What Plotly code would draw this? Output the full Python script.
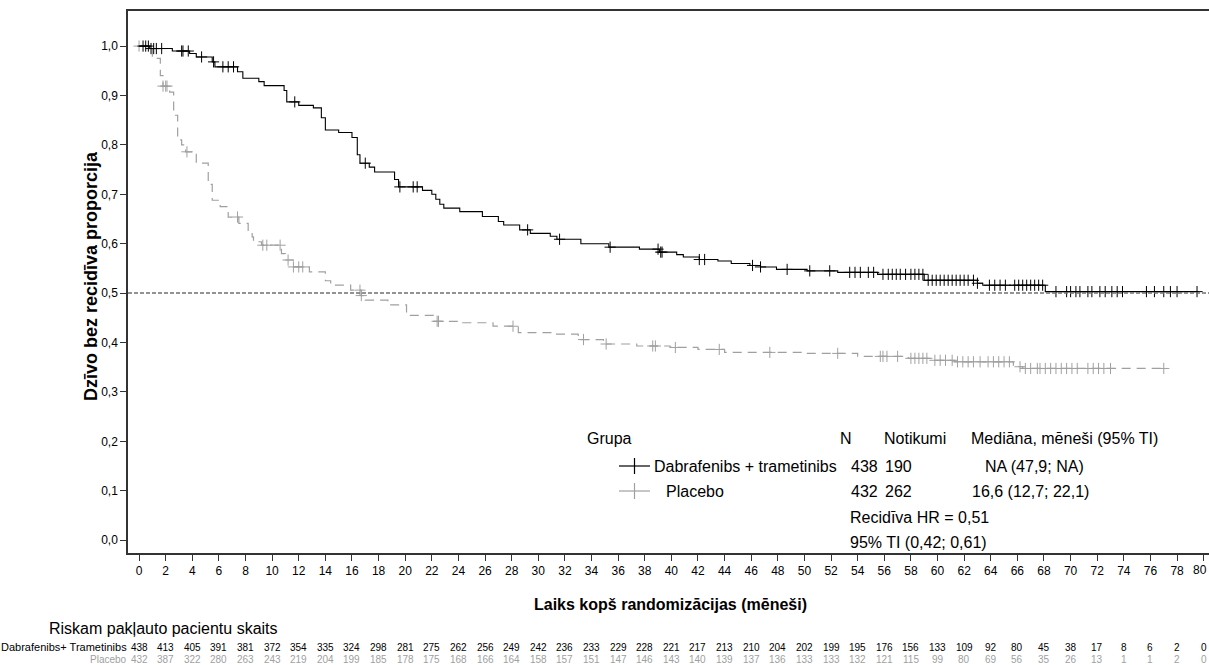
import plotly.graph_objects as go
import numpy as np

# ---------------- data ----------------
dt_times = [0, 0.8, 2.5, 3.8, 4.3, 5.5, 5.7, 7.4, 7.8, 9.0, 9.4, 10.9, 11.1, 12.0, 13.1, 13.7, 14.0,
            15.0, 16.0, 16.4, 16.6, 17.3, 17.7, 19.2, 19.5, 21.3, 22.0, 22.3, 22.6, 22.9, 24.1, 25.8,
            27.0, 27.4, 28.6, 29.4, 30.9, 31.4, 33.2, 35.3, 37.6, 39.1, 40.4, 40.9, 42.1, 43.5, 44.5,
            45.9, 46.7, 47.9, 50.2, 52.5, 55.5, 59.0, 63.0, 63.4, 68.1, 79.6]
dt_surv = [1.0, 0.995, 0.99, 0.985, 0.978, 0.968, 0.958, 0.948, 0.935, 0.928, 0.92, 0.91, 0.887, 0.88,
           0.875, 0.855, 0.83, 0.825, 0.815, 0.78, 0.763, 0.755, 0.745, 0.73, 0.715, 0.708, 0.700, 0.69,
           0.68, 0.672, 0.665, 0.655, 0.645, 0.638, 0.628, 0.621, 0.615, 0.609, 0.60, 0.593, 0.589, 0.583,
           0.578, 0.573, 0.568, 0.565, 0.56, 0.556, 0.553, 0.548, 0.545, 0.542, 0.538, 0.526, 0.52, 0.516,
           0.503, 0.503]
dt_censor = [0.3, 0.5, 0.7, 0.9, 1.1, 1.3, 1.7, 3.2, 3.3, 3.7, 4.7, 5.6, 6.3, 6.7, 7.1, 11.7, 17.0, 19.6,
             20.6, 20.9, 29.2, 31.6, 35.4, 39.0, 39.2, 39.3, 42.1, 42.5, 46.1, 46.7, 48.7, 50.4, 51.9,
             53.4, 53.8, 54.2, 54.8, 55.2, 55.9, 56.3, 56.6, 56.9, 57.2, 57.6, 58.0, 58.3, 58.6, 58.9,
             59.3, 59.6, 59.9, 60.2, 60.5, 60.8, 61.1, 61.4, 61.7, 62.0, 62.3, 62.7, 63.0, 63.9, 64.3,
             64.7, 65.1, 65.8, 66.1, 66.4, 66.7, 67.0, 67.3, 67.6, 67.9, 68.9, 69.7, 70.0, 70.4, 70.7,
             71.3, 71.6, 72.2, 72.6, 73.1, 73.5, 73.9, 75.7, 76.3, 77.0, 77.5, 78.0, 79.5]

pl_times = [0, 0.6, 1.0, 1.6, 1.8, 2.3, 2.6, 2.9, 3.2, 3.5, 4.3, 5.2, 5.5, 6.1, 6.7, 7.5, 8.2, 8.5, 8.6,
            9.2, 10.7, 11.0, 11.6, 12.8, 14.0, 14.4, 15.9, 16.7, 17.0, 18.7, 20.1, 22.1, 24.3, 26.6,
            28.5, 31.0, 33.0, 34.9, 37.4, 39.9, 42.0, 44.0, 50.0, 54.0, 57.8, 59.8, 61.3, 65.7, 66.4, 77.0]
pl_surv = [1.0, 0.995, 0.975, 0.94, 0.919, 0.907, 0.86, 0.81, 0.80, 0.786, 0.763, 0.72, 0.688, 0.675,
           0.654, 0.641, 0.625, 0.614, 0.604, 0.597, 0.58, 0.567, 0.553, 0.543, 0.525, 0.516, 0.506,
           0.495, 0.486, 0.476, 0.455, 0.443, 0.44, 0.433, 0.42, 0.417, 0.406, 0.397, 0.393, 0.39, 0.386,
           0.38, 0.378, 0.372, 0.368, 0.364, 0.361, 0.351, 0.3475, 0.3475]
pl_censor = [0.0, 1.8, 2.0, 2.1, 3.6, 7.4, 9.3, 9.6, 10.6, 11.2, 11.6, 12.0, 12.3, 16.6, 16.7, 22.4, 22.5,
             28.1, 33.4, 35.1, 38.6, 38.8, 40.3, 43.6, 47.4, 52.5, 55.7, 55.9, 56.2, 57.0, 58.0, 58.3,
             58.6, 58.9, 59.2, 59.8, 60.2, 60.6, 61.1, 61.5, 61.9, 62.3, 62.7, 63.2, 63.8, 64.2, 64.6,
             65.0, 65.4, 66.2, 66.6, 67.0, 67.5, 67.7, 68.1, 68.5, 68.9, 69.3, 69.7, 70.1, 70.5, 71.3,
             71.7, 72.1, 72.5, 73.0, 77.0]

risk_months = list(range(0, 81, 2))
risk_dt = [438, 413, 405, 391, 381, 372, 354, 335, 324, 298, 281, 275, 262, 256, 249, 242, 236, 233, 229,
           228, 221, 217, 213, 210, 204, 202, 199, 195, 176, 156, 133, 109, 92, 80, 45, 38, 17, 8, 6, 2, 0]
risk_pl = [432, 387, 322, 280, 263, 243, 219, 204, 199, 185, 178, 175, 168, 166, 164, 158, 157, 151, 147,
           146, 143, 140, 139, 137, 136, 133, 133, 132, 121, 115, 99, 80, 69, 56, 35, 26, 13, 1, 1, 2, 0]

x_ticks = list(range(0, 80, 2))
y_ticks = [round(0.1 * i, 1) for i in range(11)]

FONT = "Liberation Sans, Arial, sans-serif"
BLACK = "#000000"
GRAY = "#a0a0a0"


def step_at(times, surv, t):
    idx = np.searchsorted(np.array(times), t, side="right") - 1
    return surv[max(idx, 0)]


fig = go.Figure()

fig.add_trace(go.Scatter(x=pl_times, y=pl_surv, mode="lines", line_shape="hv",
                         line=dict(color=GRAY, width=1.2, dash="9px,6px"), showlegend=False))
fig.add_trace(go.Scatter(x=pl_censor, y=[step_at(pl_times, pl_surv, t) for t in pl_censor],
                         mode="markers", marker=dict(symbol="cross-thin", size=8,
                                                     line=dict(color=GRAY, width=1)),
                         showlegend=False))
fig.add_trace(go.Scatter(x=dt_times, y=dt_surv, mode="lines", line_shape="hv",
                         line=dict(color=BLACK, width=1.1), showlegend=False))
fig.add_trace(go.Scatter(x=dt_censor, y=[step_at(dt_times, dt_surv, t) for t in dt_censor],
                         mode="markers", marker=dict(symbol="cross-thin", size=8,
                                                     line=dict(color=BLACK, width=1)),
                         showlegend=False))

# pixel helpers (plot area: x 128..1209, y 11..553)
L, R, T, B = 128, 1209, 11, 553


def px(x):
    return (x - L) / (R - L)


def py(y):
    return (B - y) / (B - T)


ann = []


def text(s, x, y, size=16, color=BLACK, xanchor="left", bold=False, xref="paper"):
    ann.append(dict(text=("<b>%s</b>" % s) if bold else s, x=x if xref != "paper" else px(x),
                    y=py(y), xref=xref, yref="paper", xanchor=xanchor, yanchor="middle",
                    showarrow=False, font=dict(family=FONT, size=size, color=color)))


# axis titles
text("Laiks kopš randomizācijas (mēneši)", 670, 604, size=16, xanchor="center", bold=True)
ann.append(dict(text="<b>Dzīvo bez recidīva proporcija</b>", x=px(91), y=py(276), xref="paper",
                yref="paper", textangle=-90, showarrow=False, xanchor="center", yanchor="middle",
                font=dict(family=FONT, size=18, color=BLACK)))

# last x tick label sits on the right edge
text("80", 1209, 570, size=12, xanchor="right")

# legend block
text("Grupa", 585, 438)
text("N", 838, 438)
text("Notikumi", 882, 438)
text("Mediāna, mēneši (95% TI)", 969, 438)
text("Dabrafenibs + trametinibs", 652, 466)
text("438", 849, 466)
text("190", 883, 466)
text("NA (47,9; NA)", 983, 466)
text("Placebo", 664, 491)
text("432", 849, 491)
text("262", 883, 491)
text("16,6 (12,7; 22,1)", 970, 491)
text("Recidīva HR = 0,51", 848, 517)
text("95% TI (0,42; 0,61)", 848, 542)

shapes = [dict(type="line", xref="paper", x0=0, x1=1, yref="y", y0=0.5, y1=0.5,
               line=dict(color="#707070", width=1.5, dash="4px,2px"))]
for yy, col in [(466, BLACK), (491, GRAY)]:
    shapes.append(dict(type="line", xref="paper", yref="paper", x0=px(619), x1=px(650), y0=py(yy),
                       y1=py(yy), line=dict(color=col, width=1.2)))
    shapes.append(dict(type="line", xref="paper", yref="paper", x0=px(634.5), x1=px(634.5),
                       y0=py(yy - 8), y1=py(yy + 8), line=dict(color=col, width=1.2)))

# at-risk table
text("Riskam pakļauto pacientu skaits", 47, 629, size=16)
text("Dabrafenibs+ Trametinibs", 129, 647, size=11, xanchor="right")
text("Placebo", 129, 659, size=10, color=GRAY, xanchor="right")
for m, a, b in zip(risk_months, risk_dt, risk_pl):
    text(str(a), m, 647, size=10, xanchor="center", xref="x")
    text(str(b), m, 659, size=10, color=GRAY, xanchor="center", xref="x")

fig.update_layout(
    width=1209, height=665,
    margin=dict(l=L, r=1209 - R, t=T, b=665 - B),
    paper_bgcolor="white", plot_bgcolor="white",
    separators=", ",
    font=dict(family=FONT, size=12, color=BLACK),
    annotations=ann,
    shapes=shapes,
    showlegend=False,
)
fig.update_xaxes(range=[-0.83, 80.4], tickvals=x_ticks + [80], ticktext=[str(v) for v in x_ticks] + [""],
                 showgrid=False, zeroline=False, showline=True, linecolor="#333", linewidth=1.5,
                 mirror=True, ticks="outside", ticklen=6, tickcolor="#333",
                 tickfont=dict(family=FONT, size=12, color=BLACK))
fig.update_yaxes(range=[-0.026, 1.071], tickvals=y_ticks, tickformat=".1f", showgrid=False,
                 zeroline=False, showline=True, linecolor="#333", linewidth=1.5, ticks="outside",
                 ticklen=6, tickcolor="#333", tickfont=dict(family=FONT, size=12, color=BLACK))

fig.write_html("out.html", config={"displayModeBar": False},
               post_script="document.body.style.margin='0';document.body.style.overflow='hidden';")
